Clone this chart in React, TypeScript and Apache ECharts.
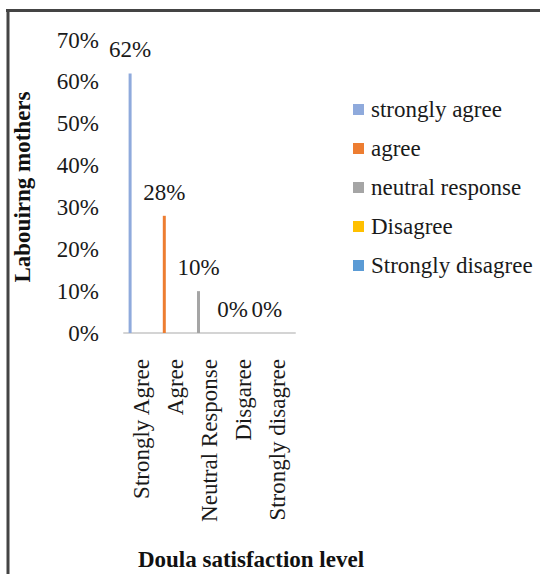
import React, { useEffect, useRef } from "react";
import * as echarts from "echarts";

const categories = ["Strongly Agree", "Agree", "Neutral Response", "Disgaree", "Strongly disagree"];
const seriesNames = ["strongly agree", "agree", "neutral response", "Disagree", "Strongly disagree"];
const values = [62, 28, 10, 0, 0];
const yMin = 0;
const yMax = 70;
const yStep = 10;

const palette = ["#8FAADC", "#ED7D31", "#A5A5A5", "#FFC000", "#5B9BD5"];
const FONT = '"Liberation Serif", "Times New Roman", serif';
const TXT = "#1a1a1a";

export default function App() {
  const ref = useRef<HTMLDivElement>(null);
  useEffect(() => {
    if (!ref.current) return;
    const chart = echarts.init(ref.current, undefined, { renderer: "svg" });
    const series: any[] = seriesNames.map((name, i) => ({
      name,
      type: "bar",
      stack: "main",
      barWidth: 3,
      barGap: "0%",
      itemStyle: { color: palette[i] },
      data: categories.map((_, j) => (j === i ? values[i] : "-")),
      label: {
        show: true,
        position: "top",
        distance: 12,
        formatter: (p: any) => `${p.value}%`,
        fontFamily: FONT,
        fontSize: 23,
        color: TXT,
      },
    }));
    series.push({
      name: "_spacer",
      type: "bar",
      stack: "spacer",
      barWidth: 22,
      barGap: "0%",
      silent: true,
      data: categories.map(() => "-"),
    });
    chart.setOption({
      animation: false,
      backgroundColor: "#ffffff",
      textStyle: { fontFamily: FONT },
      grid: { left: 124, right: 245, top: 40, bottom: 241, containLabel: false },
      legend: {
        data: seriesNames,
        orient: "vertical",
        left: 348,
        top: 93,
        itemWidth: 11,
        itemHeight: 11,
        itemGap: 16,
        icon: "rect",
        textStyle: { fontFamily: FONT, fontSize: 23, color: TXT, lineHeight: 23, padding: [0, 0, 0, 2] },
        selectedMode: false,
      },
      xAxis: {
        type: "category",
        data: categories,
        axisLine: { show: true, lineStyle: { color: "#d4d4d4", width: 2 } },
        axisTick: { show: false },
        axisLabel: {
          rotate: 90,
          interval: 0,
          margin: 26,
          fontFamily: FONT,
          fontSize: 23,
          color: TXT,
        },
        splitLine: { show: false },
      },
      yAxis: {
        type: "value",
        min: yMin,
        max: yMax,
        interval: yStep,
        axisLine: { show: false },
        axisTick: { show: false },
        splitLine: { show: false },
        axisLabel: {
          formatter: "{value}%",
          margin: 25,
          fontFamily: FONT,
          fontSize: 23,
          color: TXT,
        },
      },
      graphic: [
        { type: "line", shape: { x1: 6, y1: 10.5, x2: 540, y2: 10.5 }, style: { stroke: "#444444", lineWidth: 3 } },
        { type: "line", shape: { x1: 8, y1: 9, x2: 8, y2: 574 }, style: { stroke: "#444444", lineWidth: 3 } },
        {
          type: "text",
          x: 22,
          y: 187,
          rotation: Math.PI / 2,
          style: {
            text: "Labouirng mothers",
            font: `bold 23px ${FONT}`,
            fill: "#111",
            align: "center",
            verticalAlign: "middle",
          },
        },
        {
          type: "text",
          x: 251,
          y: 559,
          style: {
            text: "Doula satisfaction level",
            font: `bold 23px ${FONT}`,
            fill: "#111",
            align: "center",
            verticalAlign: "middle",
          },
        },
      ],
      series,
    });
    return () => chart.dispose();
  }, []);
  return (
    <div
      ref={ref}
      style={{ position: "absolute", left: 0, top: 0, width: 540, height: 574, background: "#fff" }}
    />
  );
}
